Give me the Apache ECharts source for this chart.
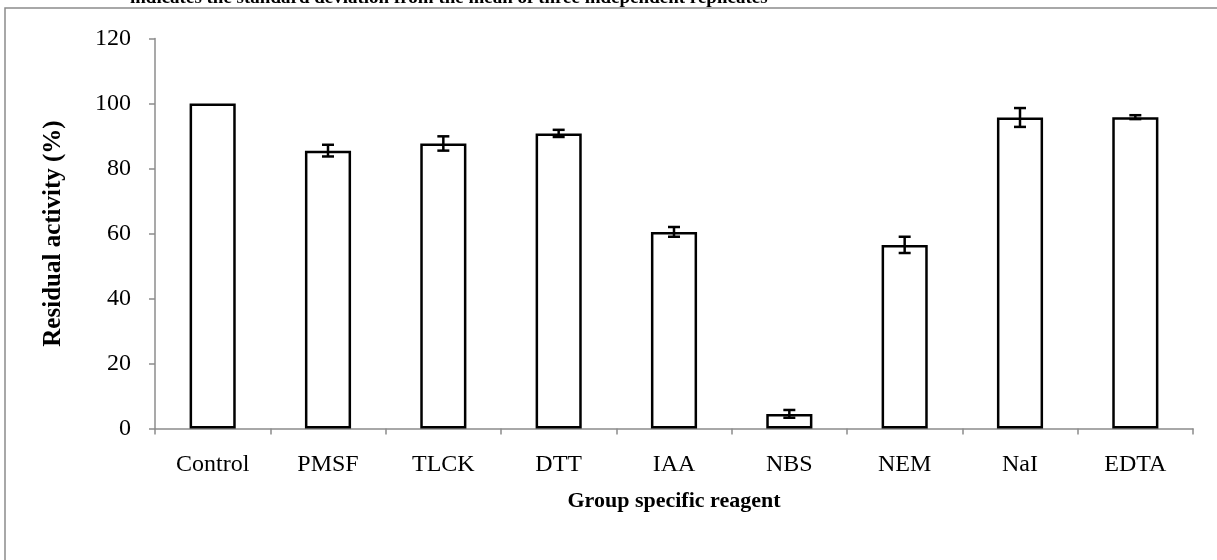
<!DOCTYPE html>
<html><head><meta charset="utf-8">
<script src="https://cdn.jsdelivr.net/npm/echarts@6/dist/echarts.min.js"></script>
<style>html,body{margin:0;padding:0;background:#fff}#c{width:1217px;height:560px}</style>
</head><body><div id="c"></div>
<script>
var categories = ['Control','PMSF','TLCK','DTT','IAA','NBS','NEM','NaI','EDTA'];
var values = [100, 85.5, 87.7, 90.8, 60.5, 4.5, 56.5, 95.7, 95.8];
var errors = [0, 1.8, 2.2, 1.1, 1.5, 1.2, 2.5, 2.9, 0.6];
var yTicks = {min: 0, max: 120, interval: 20};
var titleText = 'indicates the standard deviation from the mean of three independent replicates';

var chart = echarts.init(document.getElementById('c'));
var font = '"Liberation Serif","Times New Roman",serif';
chart.setOption({
  animation: false,
  backgroundColor: '#fff',
  graphic: [
    {type: 'rect', shape: {x: 5, y: 8, width: 1300, height: 600}, style: {fill: 'none', stroke: '#8c8c8c', lineWidth: 1.5}, z: -1},
    {type: 'text', left: 130, top: -11, style: {text: titleText, font: 'bold 19px ' + font, fill: '#000'}}
  ],
  grid: {left: 155, top: 38.5, width: 1038, height: 390},
  xAxis: {
    type: 'category', data: categories,
    axisLine: {lineStyle: {color: '#8c8c8c', width: 1.5}},
    axisTick: {show: true, length: 6, lineStyle: {color: '#8c8c8c', width: 1.5}},
    axisLabel: {color: '#000', fontFamily: font, fontSize: 24, margin: 24},
    name: 'Group specific reagent', nameLocation: 'middle', nameGap: 62,
    nameTextStyle: {color: '#000', fontFamily: font, fontSize: 22, fontWeight: 'bold'}
  },
  yAxis: {
    type: 'value', min: yTicks.min, max: yTicks.max, interval: yTicks.interval,
    splitLine: {show: false},
    axisLine: {show: true, lineStyle: {color: '#8c8c8c', width: 1.5}},
    axisTick: {show: true, length: 6, lineStyle: {color: '#8c8c8c', width: 1.5}},
    axisLabel: {color: '#000', fontFamily: font, fontSize: 24, margin: 24},
    name: 'Residual activity (%)', nameLocation: 'middle', nameGap: 89,
    nameTextStyle: {color: '#000', fontFamily: font, fontSize: 25, fontWeight: 'bold'}
  },
  series: [
    {type: 'bar', data: values, barWidth: '40%',
      itemStyle: {color: '#fff', borderColor: '#000', borderWidth: 2.5}},
    {type: 'custom', z: 10,
      data: values.map(function (v, i) { return [i, v - errors[i], v + errors[i]]; }),
      renderItem: function (params, api) {
        var lo = api.coord([api.value(0), api.value(1)]);
        var hi = api.coord([api.value(0), api.value(2)]);
        var hw = 6;
        var st = {stroke: '#000', lineWidth: 2.5};
        if (api.value(2) - api.value(1) === 0) return {type: 'group', children: []};
        return {type: 'group', children: [
          {type: 'line', shape: {x1: lo[0], y1: lo[1], x2: hi[0], y2: hi[1]}, style: st},
          {type: 'line', shape: {x1: lo[0] - hw, y1: lo[1], x2: lo[0] + hw, y2: lo[1]}, style: st},
          {type: 'line', shape: {x1: hi[0] - hw, y1: hi[1], x2: hi[0] + hw, y2: hi[1]}, style: st}
        ]};
      }
    }
  ]
});
</script></body></html>
